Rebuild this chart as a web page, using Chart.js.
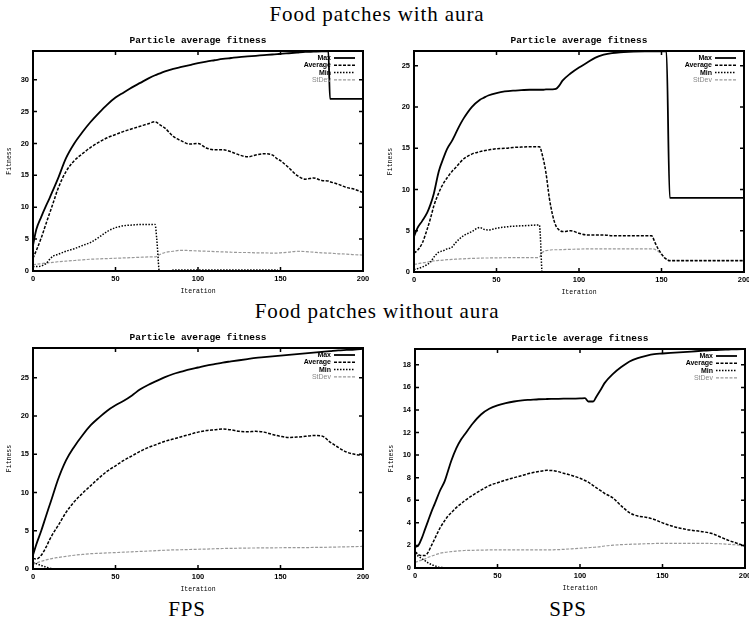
<!DOCTYPE html>
<html>
<head>
<meta charset="utf-8">
<script src="https://cdn.jsdelivr.net/npm/chart.js@4.4.1/dist/chart.umd.min.js"></script>
<style>
body { margin:0; width:749px; height:622px; overflow:hidden; background:#fff; position:relative; }
canvas { position:absolute; }
.head { position:absolute; font-family:'Liberation Serif', serif; font-size:21px; line-height:21px; letter-spacing:0.9px; color:#000; white-space:nowrap; transform:translateX(-50%); }
</style>
</head>
<body>
<div class="head" style="left:377px; top:4px">Food patches with aura</div>
<div class="head" style="left:377px; top:301px">Food patches without aura</div>
<div class="head" style="left:187px; top:599px">FPS</div>
<div class="head" style="left:568px; top:599px">SPS</div>
<canvas id="c1" width="375" height="268" style="left:0; top:33px"></canvas>
<canvas id="c2" width="374" height="269" style="left:381px; top:33px"></canvas>
<canvas id="c3" width="375" height="269" style="left:0; top:330px"></canvas>
<canvas id="c4" width="374" height="267" style="left:382px; top:331px"></canvas>
<script>
const seriesNames = ['Max', 'Average', 'Min', 'StDev'];
const xTickStep = 50;

// food patches with aura, FPS
const iterTL = [0, 2, 5, 8, 10, 12, 15, 20, 25, 30, 35, 40, 45, 50, 55, 60, 65, 70, 74, 75, 77, 80, 85, 90, 95, 100, 105, 110, 115, 120, 125, 130, 135, 140, 145, 148, 150, 155, 160, 165, 170, 175, 179, 180, 185, 190, 195, 200];
const maxTL = [4.0, 6.5, 8.5, 10.3, 11.4, 12.6, 14.4, 17.7, 20.0, 21.8, 23.4, 24.8, 26.1, 27.2, 28.0, 28.8, 29.5, 30.2, 30.7, 30.8, 31.0, 31.3, 31.7, 32.0, 32.3, 32.6, 32.85, 33.05, 33.25, 33.4, 33.55, 33.65, 33.75, 33.85, 33.95, 34.0, 34.05, 34.15, 34.25, 34.35, 34.4, 34.45, 34.45, 27.0, 27.0, 27.0, 27.0, 27.0];
const avgTL = [2.0, 3.2, 5.2, 7.5, 9.0, 10.5, 12.8, 15.6, 17.3, 18.4, 19.4, 20.2, 20.9, 21.4, 21.9, 22.3, 22.7, 23.1, 23.4, 23.3, 22.9, 22.4, 21.1, 20.4, 19.9, 20.0, 19.3, 19.0, 19.0, 18.7, 18.2, 17.9, 18.2, 18.4, 18.2, 17.6, 17.3, 16.2, 15.0, 14.4, 14.6, 14.2, 14.1, 14.0, 13.6, 13.1, 12.8, 12.3];
const minTL = [0.7, 0.7, 0.8, 1.2, 1.8, 2.3, 2.6, 3.1, 3.5, 4.0, 4.5, 5.3, 6.2, 6.8, 7.1, 7.2, 7.3, 7.3, 7.3, 5.0, -1, -1, 0.15, 0.15, 0.15, 0.15, 0.15, 0.15, 0.15, 0.15, 0.15, 0.15, 0.15, 0.15, 0.15, 0.15, -1, -1, -1, -1, -1, -1, -1, -1, -1, -1, -1, -1];
const sdTL = [1.0, 1.05, 1.15, 1.25, 1.3, 1.35, 1.45, 1.55, 1.65, 1.75, 1.85, 1.9, 1.95, 2.0, 2.05, 2.1, 2.15, 2.2, 2.2, 2.3, 2.6, 2.9, 3.1, 3.25, 3.2, 3.15, 3.1, 3.05, 3.0, 2.95, 2.9, 2.9, 2.85, 2.85, 2.8, 2.8, 2.85, 2.95, 3.1, 3.05, 2.95, 2.85, 2.8, 2.8, 2.7, 2.65, 2.55, 2.5];

// food patches with aura, SPS
const iterTR = [0, 2, 5, 8, 10, 12, 15, 18, 20, 23, 25, 28, 30, 35, 40, 42, 45, 50, 55, 60, 65, 70, 75, 76, 78, 80, 82, 84, 86, 88, 90, 95, 100, 105, 110, 115, 120, 125, 130, 140, 144, 146, 148, 150, 152, 153, 155, 160, 170, 180, 190, 200];
const maxTR = [4.3, 5.3, 6.2, 7.2, 8.2, 9.5, 12.2, 13.9, 14.9, 15.9, 16.7, 17.9, 18.6, 20.0, 20.9, 21.1, 21.4, 21.7, 21.9, 22.0, 22.05, 22.1, 22.1, 22.1, 22.1, 22.15, 22.15, 22.15, 22.2, 22.6, 23.2, 24.1, 24.8, 25.4, 26.0, 26.35, 26.55, 26.65, 26.7, 26.75, 26.75, 26.75, 26.75, 26.75, 26.75, 26.75, 9.0, 9.0, 9.0, 9.0, 9.0, 9.0];
const avgTR = [2.3, 2.6, 3.5, 5.2, 6.5, 8.0, 9.6, 10.8, 11.4, 12.2, 12.6, 13.3, 13.7, 14.3, 14.6, 14.7, 14.8, 14.95, 15.0, 15.1, 15.15, 15.2, 15.2, 15.2, 14.0, 12.0, 9.0, 6.9, 5.6, 5.1, 4.9, 5.0, 4.7, 4.5, 4.5, 4.5, 4.4, 4.4, 4.4, 4.4, 4.4, 3.6, 2.8, 2.2, 1.7, 1.55, 1.35, 1.35, 1.35, 1.35, 1.35, 1.35];
const minTR = [0.3, 0.4, 0.6, 0.9, 1.2, 1.8, 2.4, 2.6, 2.8, 3.0, 3.5, 4.1, 4.4, 4.9, 5.4, 5.2, 5.1, 5.3, 5.45, 5.55, 5.6, 5.65, 5.7, 5.7, -1, -1, -1, -1, -1, -1, -1, -1, -1, -1, -1, -1, -1, -1, -1, -1, -1, -1, -1, -1, -1, -1, -1, -1, -1, -1, -1, -1];
const sdTR = [0.9, 1.0, 1.1, 1.2, 1.3, 1.35, 1.4, 1.45, 1.5, 1.52, 1.55, 1.58, 1.6, 1.65, 1.68, 1.7, 1.7, 1.72, 1.73, 1.75, 1.75, 1.75, 1.75, 1.8, 2.4, 2.6, 2.65, 2.7, 2.7, 2.7, 2.72, 2.75, 2.78, 2.8, 2.8, 2.8, 2.8, 2.8, 2.8, 2.8, 2.8, 2.75, 2.5, 2.1, 1.7, 1.6, 1.45, 1.45, 1.45, 1.45, 1.45, 1.45];

// food patches without aura, FPS
const iterBL = [0, 2, 5, 8, 10, 12, 15, 20, 25, 30, 35, 40, 45, 50, 55, 60, 65, 70, 75, 80, 85, 90, 95, 100, 105, 110, 115, 120, 125, 130, 135, 140, 145, 150, 155, 160, 165, 170, 175, 180, 185, 190, 195, 200];
const maxBL = [1.8, 3.2, 5.0, 7.0, 8.3, 9.6, 11.6, 14.2, 16.0, 17.5, 18.8, 19.8, 20.7, 21.4, 22.0, 22.7, 23.5, 24.1, 24.6, 25.1, 25.5, 25.8, 26.1, 26.35, 26.6, 26.8, 27.0, 27.15, 27.3, 27.45, 27.6, 27.7, 27.8, 27.9, 28.0, 28.1, 28.2, 28.3, 28.4, 28.5, 28.6, 28.65, 28.7, 28.8];
const avgBL = [1.4, 1.3, 1.8, 2.9, 3.8, 4.6, 5.6, 7.4, 8.8, 9.9, 10.9, 11.9, 12.8, 13.5, 14.2, 14.8, 15.4, 15.9, 16.3, 16.7, 17.0, 17.3, 17.6, 17.9, 18.1, 18.2, 18.3, 18.2, 18.0, 17.95, 18.0, 17.9, 17.6, 17.35, 17.2, 17.25, 17.35, 17.45, 17.4, 16.6, 15.9, 15.3, 15.0, 14.85];
const minBL = [0.9, 0.7, 0.45, 0.25, 0.1, 0.0, -1, -1, -1, -1, -1, -1, -1, -1, -1, -1, -1, -1, -1, -1, -1, -1, -1, -1, -1, -1, -1, -1, -1, -1, -1, -1, -1, -1, -1, -1, -1, -1, -1, -1, -1, -1, -1, -1];
const sdBL = [0.6, 0.8, 1.0, 1.2, 1.3, 1.4, 1.5, 1.65, 1.8, 1.9, 2.0, 2.05, 2.1, 2.15, 2.2, 2.25, 2.3, 2.35, 2.4, 2.45, 2.5, 2.52, 2.55, 2.58, 2.6, 2.65, 2.68, 2.7, 2.72, 2.74, 2.75, 2.76, 2.77, 2.78, 2.79, 2.8, 2.8, 2.82, 2.83, 2.85, 2.88, 2.9, 2.93, 2.95];

// food patches without aura, SPS
const iterBR = [0, 2, 4, 6, 8, 10, 12, 15, 18, 20, 22, 25, 28, 30, 35, 40, 45, 50, 55, 60, 65, 70, 75, 80, 85, 90, 95, 100, 103, 105, 108, 110, 113, 115, 120, 125, 130, 135, 140, 145, 150, 155, 160, 165, 170, 175, 180, 185, 190, 195, 200];
const maxBR = [1.85, 2.0, 2.6, 3.4, 4.2, 5.0, 5.7, 6.8, 7.7, 8.6, 9.5, 10.6, 11.4, 11.8, 12.8, 13.6, 14.1, 14.4, 14.6, 14.75, 14.85, 14.9, 14.95, 14.97, 14.98, 15.0, 15.0, 15.02, 15.05, 14.75, 14.75, 15.2, 15.9, 16.4, 17.2, 17.8, 18.3, 18.6, 18.8, 18.95, 19.0, 19.05, 19.1, 19.15, 19.2, 19.25, 19.3, 19.32, 19.35, 19.38, 19.4];
const avgBR = [1.45, 1.2, 1.1, 1.1, 1.4, 2.0, 2.6, 3.5, 4.2, 4.6, 4.9, 5.35, 5.7, 5.95, 6.45, 6.9, 7.3, 7.55, 7.8, 8.0, 8.2, 8.4, 8.55, 8.65, 8.6, 8.4, 8.2, 7.95, 7.75, 7.6, 7.3, 7.1, 6.8, 6.6, 6.2, 5.5, 4.9, 4.6, 4.5, 4.3, 4.0, 3.75, 3.55, 3.4, 3.3, 3.2, 3.05, 2.75, 2.45, 2.2, 1.95];
const minBR = [1.3, 1.05, 0.85, 0.65, 0.45, 0.3, 0.2, 0.05, 0.0, -1, -1, -1, -1, -1, -1, -1, -1, -1, -1, -1, -1, -1, -1, -1, -1, -1, -1, -1, -1, -1, -1, -1, -1, -1, -1, -1, -1, -1, -1, -1, -1, -1, -1, -1, -1, -1, -1, -1, -1, -1, -1];
const sdBR = [0.5, 0.6, 0.7, 0.8, 0.95, 1.05, 1.15, 1.3, 1.38, 1.42, 1.45, 1.5, 1.53, 1.55, 1.57, 1.58, 1.6, 1.6, 1.6, 1.6, 1.6, 1.6, 1.6, 1.6, 1.62, 1.65, 1.7, 1.75, 1.78, 1.8, 1.83, 1.85, 1.9, 1.95, 2.02, 2.07, 2.1, 2.12, 2.15, 2.17, 2.18, 2.18, 2.18, 2.18, 2.18, 2.18, 2.17, 2.15, 2.1, 2.05, 2.0];

const lineStyles = [
  { color: '#000', width: 1.8, dash: [] },
  { color: '#000', width: 1.5, dash: [3, 1.5] },
  { color: '#000', width: 1.5, dash: [1.5, 1.5] },
  { color: '#999', width: 1.2, dash: [3, 1.5] }
];

function pts(xs, ys) {
  return xs.map((x, i) => ({ x: x, y: ys[i] }));
}

// gnuplot style frame: border, inward ticks and key in the top right corner
const frame = {
  id: 'frame',
  afterDatasetsDraw(chart) {
    const { ctx, chartArea: a, scales: { x, y } } = chart;
    ctx.save();
    ctx.strokeStyle = '#000';
    ctx.lineWidth = 1.5;
    ctx.setLineDash([]);
    ctx.beginPath();
    x.ticks.forEach(t => {
      const px = x.getPixelForValue(t.value);
      ctx.moveTo(px, a.bottom); ctx.lineTo(px, a.bottom - 4);
      ctx.moveTo(px, a.top); ctx.lineTo(px, a.top + 4);
    });
    y.ticks.forEach(t => {
      const py = y.getPixelForValue(t.value);
      ctx.moveTo(a.left, py); ctx.lineTo(a.left + 4, py);
      ctx.moveTo(a.right, py); ctx.lineTo(a.right - 4, py);
    });
    ctx.stroke();
    ctx.lineWidth = 2;
    ctx.strokeRect(a.left, a.top, a.right - a.left, a.bottom - a.top);

    ctx.textAlign = 'right';
    ctx.textBaseline = 'middle';
    chart.data.datasets.forEach((ds, i) => {
      const yy = a.top + 7 + i * 7.3;
      const grey = ds.borderColor !== '#000';
      ctx.font = (grey ? '' : 'bold ') + '7px "Liberation Sans"';
      ctx.fillStyle = grey ? '#888' : '#000';
      ctx.fillText(ds.label, a.right - 32, yy);
      ctx.strokeStyle = ds.borderColor;
      ctx.lineWidth = ds.borderWidth;
      ctx.setLineDash(ds.borderDash);
      ctx.beginPath();
      ctx.moveTo(a.right - 29, yy);
      ctx.lineTo(a.right - 8, yy);
      ctx.stroke();
    });
    ctx.restore();
  }
};

const tickFont = { family: 'Liberation Sans', size: 7.5, weight: 'bold' };
const labelFont = { family: 'Liberation Mono', size: 6.5 };

function makeChart(id, iter, series, yMax, yStep, padRight) {
  return new Chart(document.getElementById(id), {
    type: 'line',
    data: {
      datasets: series.map((s, i) => ({
        label: seriesNames[i],
        data: pts(iter, s),
        borderColor: lineStyles[i].color,
        borderWidth: lineStyles[i].width,
        borderDash: lineStyles[i].dash,
        pointRadius: 0,
        fill: false,
        cubicInterpolationMode: 'monotone',
        clip: 0
      }))
    },
    options: {
      responsive: false,
      animation: false,
      devicePixelRatio: 1,
      layout: { padding: { left: 0, top: 0, right: padRight, bottom: 0 }, autoPadding: false },
      plugins: {
        legend: { display: false },
        tooltip: { enabled: false },
        title: {
          display: true,
          fullSize: false,
          text: 'Particle average fitness',
          color: '#000',
          font: { family: 'Liberation Mono', size: 9.5, weight: 'bold', lineHeight: '12px' },
          padding: { top: 2, bottom: 4 }
        }
      },
      scales: {
        x: {
          type: 'linear', min: 0, max: 200,
          grid: { display: false, drawTicks: false },
          border: { display: false },
          ticks: { stepSize: xTickStep, padding: 3, color: '#000', font: tickFont, maxRotation: 0, includeBounds: false },
          title: { display: true, text: 'Iteration', color: '#000', font: labelFont, padding: { top: 0, bottom: 6 } },
          afterFit: s => { s.height = 30; }
        },
        y: {
          type: 'linear', min: 0, max: yMax,
          grid: { display: false, drawTicks: false },
          border: { display: false },
          ticks: { stepSize: yStep, padding: 4, color: '#000', font: tickFont, includeBounds: false },
          title: { display: true, text: 'Fitness', color: '#000', font: labelFont, padding: { top: 5, bottom: 0 } },
          afterFit: s => { s.width = 33; }
        }
      }
    },
    plugins: [frame]
  });
}

makeChart('c1', iterTL, [maxTL, avgTL, minTL, sdTL], 34.5, 5, 12);
makeChart('c2', iterTR, [maxTR, avgTR, minTR, sdTR], 26.8, 5, 11);
makeChart('c3', iterBL, [maxBL, avgBL, minBL, sdBL], 28.9, 5, 12);
makeChart('c4', iterBR, [maxBR, avgBR, minBR, sdBR], 19.4, 2, 11);
</script>
</body>
</html>
